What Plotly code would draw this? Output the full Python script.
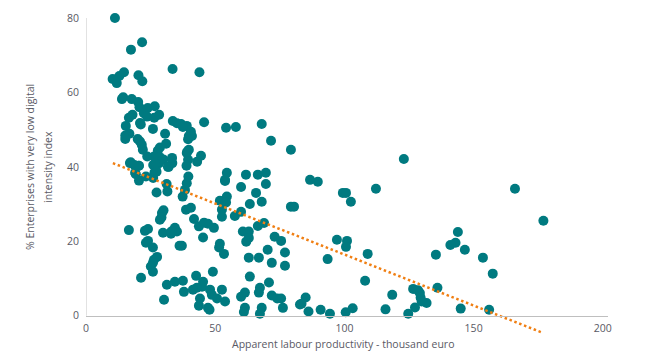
import plotly.graph_objects as go

productivity = [11.2,17.4,21.7,33.5,43.9,14.7,12.9,10.3,11.9,20.3,21.8,14.4,13.9,17.7,20.2,20.7,23.9,26.6,22.4,23.6,26.4,28.3,18,16.6,15.4,20.9,21.2,25.9,33.6,35.2,36.8,39,37.5,40.6,39.8,41,39.5,45.7,30.6,16.8,15.2,15.2,20,20.9,21.6,22,31,28.6,27.8,39.8,39,23.7,26.3,28.5,29.9,33.3,44.5,39.5,43,32,33.4,38.9,17,18.7,20.4,26,27,28.3,27,26.5,19.3,
    17.3,20.5,19,20.5,23.2,26,27.3,31.5,31.2,37.4,38.3,39,39.6,39.2,26.7,27.3,31.7,
    53.8,60,65.8,69.6,63.4,68,79.3,80.5,51.8,54.5,54.2,52.6,52.6,57.6,60,66.5,68.9,60.7,63,63,62,73,75.5,70.3,77,63,66.9,71.9,77,63.4,70.8,67.3,66.9,61.5,60,71.9,74,75.5,76.2,82.8,68,67.3,61.5,61.1,
    16.6,22.8,24,29.8,32.9,34.4,35.2,33,24,23.2,25.9,37.1,36.2,27.5,26.3,25.9,25.1,25.9,21.3,29.4,30,29.2,28.6,38.7,40.6,41.8,43.7,45.7,47.2,49.5,45.3,51.8,51.5,53.4,49.1,42.6,45.3,44.9,42.9,41.4,48,52.6,37.9,31.3,34.4,37.5,48.7,50.7,53.8,44.1,43.7,47.2,47.8,30.2,
    54.2,58,68,71.6,79.3,123,54.5,53.8,61.9,66.5,69.6,86.7,89.7,99.4,100.6,102.5,112.2,97.1,101,100.6,109,93.5,
    166,177,143.9,143,141,146.6,135.4,153.6,157.4,126.6,136,129.2,128.5,129.5,131.8,129.9,127.3,124.7,145,156,
    85,83.4,86.1,90.8,94.4,100.5,103.2,115.9,118.5,108]
low_intensity = [80,71.5,73.5,66.3,65.4,65.4,64.4,63.6,62.5,64.6,63,58.7,58.2,58.2,57.4,56,55.8,56.3,54.4,53.5,53.2,54,54,53.2,51,51.8,51.4,50.2,52.3,51.7,51.5,51,50.7,49.4,48.3,48.3,47.4,52,48.9,48.9,48.4,47.5,47.5,46.8,45.9,44.6,46.2,45.2,44.4,44.6,43.7,42.8,42.8,42.6,42,42.4,43,41.9,41.4,40,41,40.3,41,40.5,40.3,40.5,40,41,39,38.5,38,
    41.2,40.3,38.4,36.3,37.4,37,33.1,33.4,35.4,32,33.8,35.6,37.4,44.1,40.8,38.7,40,
    36.2,34.6,33,35.4,30,30.6,29.3,29.3,30.9,32,30.4,28.5,26.6,26.8,27.9,24.1,24.9,22.6,22.6,20.9,19.9,21.2,20.1,17.7,17,15.6,15.6,14.2,13.4,10.5,8.9,7.5,6.2,6.2,5.1,5.4,4.6,4.6,2.1,3,2.1,0.5,2.1,1,
    23,22.8,23.3,22.3,22,23.6,22.6,22.6,20.1,19.6,18.3,18.8,18.8,15.8,15,14.2,13.2,11.8,10.2,27.6,28.3,26.4,25.8,28.5,29,26,24,25,24.7,23.6,21,19.3,18.3,16.6,11.8,10.7,9.1,7.8,7.5,7,7,7,6.4,8.3,9.1,9.4,5.6,4.6,3.8,4.6,2.7,2.1,1.6,4.3,
    50.5,50.7,51.5,47,44.6,42.1,38.4,36.5,37.9,37.9,38.4,36.5,36,33,33,30.6,34.1,20.4,20.1,18.5,16.6,15.2,
    34.1,25.5,22.5,19.6,19,17.7,16.4,15.6,11.3,7.2,7.5,6.1,6.8,4.8,3.4,3.8,2.2,0.5,1.9,1.6,
    4.9,3.2,1.1,1.6,0.5,0.9,2,1.7,5.6,9.4]
trend_x = [10.4, 176.7]
trend_y = [41, -4.6]
x_ticks = [0, 50, 100, 150, 200]
y_ticks = [0, 20, 40, 60, 80]
x_title = "Apparent labour productivity - thousand euro"
y_title_lines = ["% Enterprises with very low digital", "intensity index"]

TEAL = "#007a80"
TXT = "#595964"
FONT = "Open Sans"
Y_MIN = -6
Y_MAX = 80
FS = 10.5

fig = go.Figure()
fig.add_trace(go.Scatter(x=productivity, y=low_intensity, mode="markers",
                         marker=dict(color=TEAL, size=10, line=dict(width=0)),
                         cliponaxis=False, showlegend=False))
fig.add_trace(go.Scatter(x=trend_x, y=trend_y, mode="lines",
                         line=dict(color="#f07f13", width=2.5, dash="2.5px,2.7px"),
                         showlegend=False))
fig.add_shape(type="line", xref="x", yref="y", x0=0, x1=0, y0=y_ticks[0], y1=y_ticks[-1],
              line=dict(color="#d9d9d9", width=1.5), layer="below")
annos = [
    dict(text=x_title, xref="paper", yref="paper", x=(343 - 86) / 522, y=(338 - 344) / 320,
         showarrow=False, xanchor="center", yanchor="middle", font=dict(size=FS, color=TXT)),
    dict(text=y_title_lines[0], xref="paper", yref="paper", x=(30 - 86) / 522, y=(338 - 167) / 320,
         textangle=-90, showarrow=False, xanchor="center", yanchor="middle", font=dict(size=FS, color=TXT)),
    dict(text=y_title_lines[1], xref="paper", yref="paper", x=(48 - 86) / 522, y=(338 - 167) / 320,
         textangle=-90, showarrow=False, xanchor="center", yanchor="middle", font=dict(size=FS, color=TXT)),
]
fig.update_layout(
    width=652, height=354, autosize=False,
    margin=dict(l=78, r=52, t=10, b=24),
    paper_bgcolor="white", plot_bgcolor="white",
    font=dict(family=FONT, size=FS, color=TXT),
    annotations=annos,
    xaxis=dict(range=[0, 202], tickvals=x_ticks, showgrid=False, zeroline=False,
               showline=True, linecolor="#bfbfbf", linewidth=1, ticks="",
               anchor="free", position=(0 - Y_MIN) / (Y_MAX - Y_MIN), ticklabelstandoff=3,
               tickfont=dict(size=FS, color=TXT), automargin=False),
    yaxis=dict(range=[Y_MIN, Y_MAX], tickvals=y_ticks, showgrid=False, zeroline=False,
               showline=False, ticks="", ticklabelstandoff=6,
               tickfont=dict(size=FS, color=TXT), automargin=False),
)
fig.write_html("out.html")
